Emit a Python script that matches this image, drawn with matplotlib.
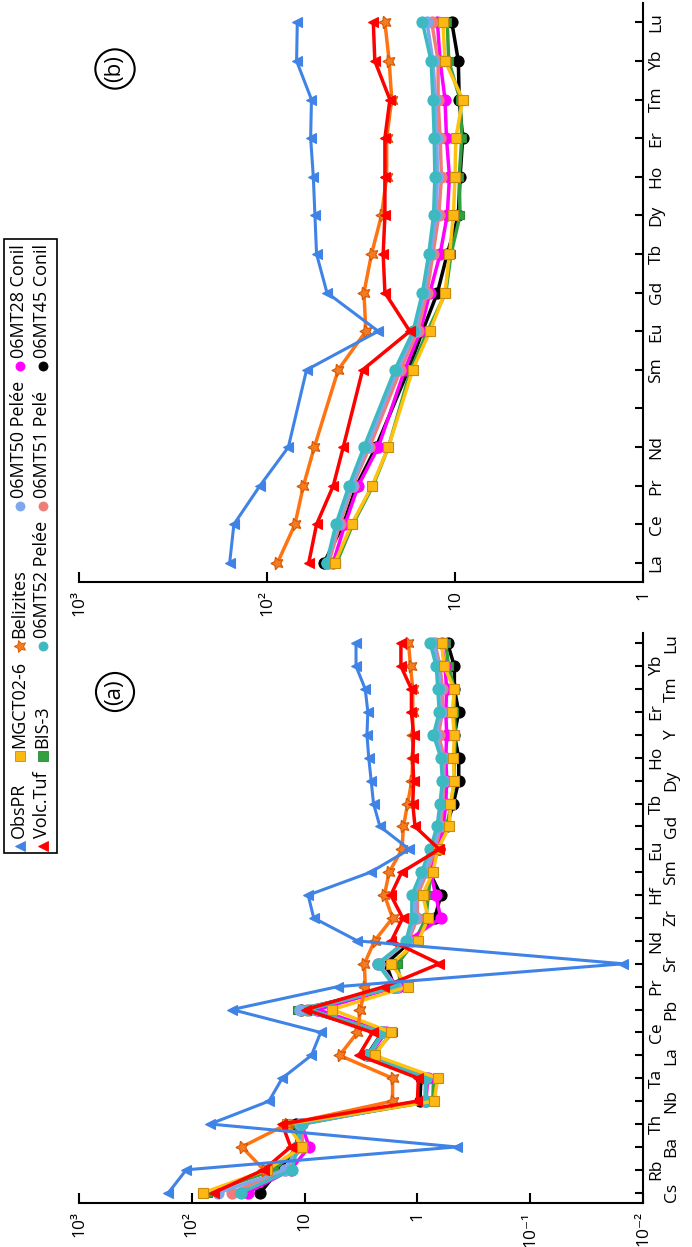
import matplotlib.pyplot as plt
import numpy as np
from matplotlib.patches import Rectangle
from matplotlib.ticker import NullLocator
from matplotlib.transforms import ScaledTranslation

plt.rcParams["font.family"] = ["Open Sans", "DejaVu Sans"]

nan = np.nan

# ---- panel (a): multi-element pattern ----
elems_a = ["Cs", "Rb", "Ba", "Th", "Nb", "Ta", "La", "Ce", "Pb", "Pr", "Sr", "Nd", "Zr",
           "Hf", "Sm", "Eu", "Gd", "Tb", "Dy", "Ho", "Y", "Er", "Tm", "Yb", "Lu"]
obspr_a = [161, 112, 0.45, 69, 20.7, 15.8, 8.7, 7.2, 44, 5.1, 0.015, 3.4, 8.3,
           9.3, 2.6, 1.18, 2.15, 2.45, 2.57, 2.7, 2.8, 2.75, 2.9, 3.5, 3.5]
volc_a = [64, 23, 13.3, 15.8, 1.0, 0.98, 3.3, 2.5, 9.8, 1.97, 0.64, 1.7, 1.35,
          1.72, 1.38, 0.64, 1.05, 1.1, 1.08, 1.1, 1.08, 1.13, 1.13, 1.4, 1.4]
beliz_a = [nan, 23, 36, 14.3, 1.66, 1.66, 4.9, 3.4, 3.2, 2.9, 2.95, 2.4, 1.66,
           1.96, 1.78, 1.37, 1.33, 1.22, 1.12, 1.1, 1.1, 1.1, 1.1, 1.15, 1.2]
mgct_a = [79, 21.5, 10.5, 14.3, 0.71, 0.66, 2.4, 1.7, 5.7, 1.22, 1.7, 0.98, 0.8,
          0.9, 0.73, 0.66, 0.52, 0.51, 0.47, 0.48, 0.47, 0.49, 0.47, 0.58, 0.61]
bis3_a = [72, 18.6, 11.2, 12, 0.73, 0.72, 2.5, 1.66, 11.6, 1.4, 1.5, 1.05, 0.84,
          0.8, 0.76, 0.68, 0.55, 0.5, 0.47, 0.47, 0.46, 0.47, 0.47, 0.53, 0.56]
mt52_a = [37, 12.9, 11.6, 10.5, 0.84, 0.84, 2.77, 2.04, 9.1, 1.6, 2.25, 1.26, 1.12,
          1.12, 0.92, 0.77, 0.67, 0.63, 0.6, 0.62, 0.72, 0.64, 0.66, 0.68, 0.77]
mt50_a = [58, 14.8, 11.5, 11, 0.85, 0.85, 2.7, 2.0, 10.9, 1.55, 2.2, 1.22, 1.05,
          1.05, 0.85, 0.72, 0.64, 0.61, 0.59, 0.6, 0.68, 0.62, 0.63, 0.65, 0.72]
mt51_a = [44, 15, 10.5, 10.5, 0.86, 0.84, 2.7, 2.0, 9.5, 1.55, 2.2, 1.2, 1.0,
          1.0, 0.82, 0.7, 0.62, 0.6, 0.58, 0.58, 0.65, 0.6, 0.6, 0.63, 0.7]
mt28_a = [32, 13.3, 9.1, 10.7, 0.84, 0.81, 2.7, 1.9, 7.7, 1.5, 2.25, 1.22, 0.62,
          0.69, 0.76, 0.66, 0.59, 0.56, 0.55, 0.56, 0.55, 0.56, 0.55, 0.57, 0.61]
mt45_a = [24.7, 16.9, 11.6, 11.8, 0.95, 0.93, 2.8, 2.05, 10.8, 1.6, 1.9, 1.14, 0.7,
          0.62, 0.78, 0.65, 0.55, 0.48, 0.43, 0.43, 0.47, 0.43, 0.47, 0.47, 0.54]

# ---- panel (b): REE pattern (Pm has a tick but no data) ----
elems_b = ["La", "Ce", "Pr", "Nd", "", "Sm", "Eu", "Gd", "Tb", "Dy", "Ho", "Er", "Tm", "Yb", "Lu"]
obspr_b = [158, 150, 109, 77, 61.6, 25.6, 48, 54.5, 55.6, 56.7, 58.6, 58, 69.6, 69]
volc_b = [60, 54.5, 44.4, 39.3, 31, 17.4, 23.6, 24.1, 23.6, 23.6, 23.6, 22.2, 26.7, 27.2]
beliz_b = [88, 71, 64, 56, 41.8, 29.8, 30.5, 27.8, 24.6, 23.1, 23.1, 21.7, 22.4, 23.6]
mgct_b = [43.6, 35.5, 27.6, 22.6, 16.8, 13.6, 11.3, 10.7, 10.2, 10, 9.9, 9.1, 11.3, 11.6]
bis3_b = [42.7, 35, 27.3, 22.6, 17.2, 14, 11.2, 10.5, 9.4, 9.5, 9.2, 9.4, 10.8, 11]
mt52_b = [48.2, 43, 36.6, 30.5, 20.9, 16.7, 14.9, 13.8, 13, 12.8, 12.9, 13.1, 13.4, 14.9]
mt50_b = [48, 42, 35.5, 29.5, 20.3, 16.3, 14.6, 13.5, 12.6, 12.4, 12.5, 12.7, 13.1, 14.1]
mt51_b = [47, 41, 35, 28.5, 19.5, 15.8, 14.1, 13.1, 12.2, 11.8, 12, 12.3, 12.3, 13.3]
mt28_b = [44.5, 38.5, 32.7, 25.6, 18.5, 15.3, 13.6, 12, 11, 10.7, 11.1, 11.3, 12, 12.4]
mt45_b = [49.8, 39.3, 33.4, 26.3, 17.7, 14.9, 12.4, 11, 9.6, 9.4, 9.1, 9.5, 9.6, 10.4]

names = ["ObsPR", "Volc.Tuf", "MGCT02-6", "BIS-3", "Belizites",
         "06MT52 Pelée", "06MT50 Pelée", "06MT51 Pelé", "06MT28 Conil", "06MT45 Conil"]
data_a = [obspr_a, volc_a, mgct_a, bis3_a, beliz_a, mt52_a, mt50_a, mt51_a, mt28_a, mt45_a]
data_b = [obspr_b, volc_b, mgct_b, bis3_b, beliz_b, mt52_b, mt50_b, mt51_b, mt28_b, mt45_b]

star = (5, 1, 90)
# line colour, marker, size, face, edge, zorder, line width
styles = {
    "ObsPR": ("#3F83E6", "<", 7, "#3F83E6", "#3F83E6", 2.9, 2.2),
    "Volc.Tuf": ("#FF0000", "<", 7, "#FF0000", "#FF0000", 2.8, 2.5),
    "MGCT02-6": ("#FFC20E", "s", 6.5, "#FDB813", "#C98A10", 2.6, 2.5),
    "BIS-3": ("#33A040", "s", 6, "#33A040", "#2A8A35", 2.1, 2.5),
    "Belizites": ("#FF7311", star, 9.5, "#F47B20", "#D45500", 2.7, 2.5),
    "06MT52 Pelée": ("#3DB9C1", "o", 8, "#3DB9C1", "#3DB9C1", 2.5, 2.5),
    "06MT50 Pelée": ("#7FA7EC", "o", 8, "#7FA7EC", "#7FA7EC", 2.4, 2.5),
    "06MT51 Pelé": ("#F07C78", "o", 8, "#F07C78", "#F07C78", 2.3, 2.5),
    "06MT28 Conil": ("#FF00FF", "o", 8, "#FF00FF", "#FF00FF", 2.2, 2.5),
    "06MT45 Conil": ("#000000", "o", 8, "#000000", "#000000", 2.0, 2.5),
}

W, H = 692, 1247
fig = plt.figure(figsize=(W / 100, H / 100), dpi=100)


def px_axes(x0, y0, x1, y1):
    return fig.add_axes([x0 / W, 1 - y1 / H, (x1 - x0) / W, (y1 - y0) / H])


def style_axes(ax, labels, xlim, xticks, xlabels, ylim, stagger):
    ax.set_xscale("log")
    ax.set_xlim(*xlim)
    ax.set_ylim(*ylim)
    ax.patch.set_alpha(0)
    ax.spines[["top", "left"]].set_visible(False)
    for s in ("bottom", "right"):
        ax.spines[s].set_linewidth(1.5)
    ax.yaxis.tick_right()
    ax.set_yticks(range(len(labels)), labels, rotation=90, va="center", ha="left")
    ax.set_xticks(xticks, xlabels, rotation=90, ha="center", va="top")
    ax.xaxis.set_minor_locator(NullLocator())
    ax.tick_params(axis="x", direction="in", length=7, width=1.5, labelsize=12.5, pad=6)
    ax.tick_params(axis="y", direction="in", length=6, width=1.5, labelsize=12.5, pad=4)
    if stagger:
        shift = ScaledTranslation(15 / 100, 0, fig.dpi_scale_trans)
        for i, lab in enumerate(ax.yaxis.get_majorticklabels()):
            if i % 2 == 0:
                lab.set_transform(lab.get_transform() + shift)


def draw_series(ax, positions, dataset):
    for name, vals in zip(names, dataset):
        col, mk, ms, mfc, mec, z, lw = styles[name]
        ax.plot(vals, positions, color=col, lw=lw, marker=mk, ms=ms,
                mfc=mfc, mec=mec, mew=0.8, zorder=z, clip_on=False)


ax_a = px_axes(79, 633, 643, 1203)
draw_series(ax_a, np.arange(len(elems_a)), data_a)
style_axes(ax_a, elems_a, (1e3, 1e-2), [1e3, 1e2, 1e1, 1, 1e-1, 1e-2],
           ["10³", "10²", "10", "1", "10⁻¹", "10⁻²"], (-0.45, 24.45), True)

ax_b = px_axes(79, 3, 643, 581.7)
pos_b = [i for i, e in enumerate(elems_b) if e]
draw_series(ax_b, pos_b, data_b)
style_axes(ax_b, elems_b, (1e3, 1), [1e3, 1e2, 1e1, 1],
           ["10³", "10²", "10", "1"], (-0.485, 14.5), False)

# overlay in pixel coordinates for panel tags and the legend
ov = fig.add_axes([0, 0, 1, 1])
ov.set_xlim(0, W)
ov.set_ylim(H, 0)
ov.axis("off")

for tag, (tx, ty) in (("(a)", (115, 692)), ("(b)", (115, 69))):
    ov.text(tx, ty, tag, rotation=90, ha="center", va="center", fontsize=16,
            bbox=dict(boxstyle="circle,pad=0.28", fc="none", ec="black", lw=1.5))

legend_cols = [("ObsPR", "Volc.Tuf"), ("MGCT02-6", "BIS-3"), ("Belizites", "06MT52 Pelée"),
               ("06MT50 Pelée", "06MT51 Pelé"), ("06MT28 Conil", "06MT45 Conil")]
row_x = [19, 42]
renderer = fig.canvas.get_renderer()
y = 846
for col in legend_cols:
    tops = []
    for rx, name in zip(row_x, col):
        c, mk, ms, mfc, mec, z, lw = styles[name]
        ov.plot([rx + 1], [y], ls="none", marker=mk, ms=6.5 if mk != star else 9,
                mfc=mfc, mec=mec, mew=0.6)
        t = ov.text(rx, y - 8, name, rotation=90, ha="center", va="bottom", fontsize=13)
        bb = t.get_window_extent(renderer)
        tops.append(H - bb.y1)
    y = min(tops) - 15
top = y + 15 - 5
ov.add_patch(Rectangle((4, top), 53, 853 - top, fill=False, ec="black", lw=1.2))

fig.savefig("out.png", dpi=100)
